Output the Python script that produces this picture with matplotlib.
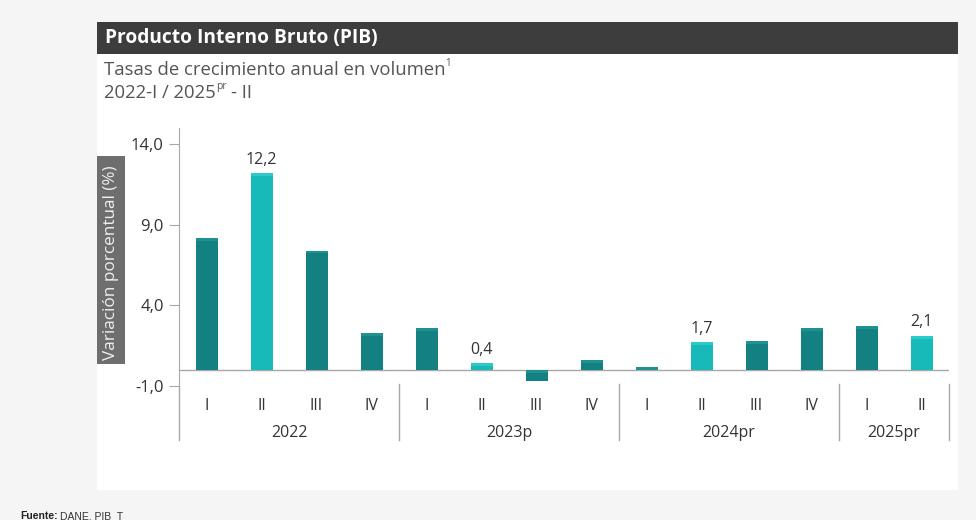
import matplotlib
matplotlib.use("Agg")
import matplotlib.pyplot as plt
from matplotlib.patches import Rectangle
from matplotlib.lines import Line2D

quarters = ["I", "II", "III", "IV", "I", "II", "III", "IV", "I", "II", "III", "IV", "I", "II"]
years = ["2022", "2023p", "2024pr", "2025pr"]
year_counts = [4, 4, 4, 2]
values = [8.2, 12.2, 7.4, 2.3, 2.6, 0.4, -0.7, 0.6, 0.2, 1.7, 1.8, 2.6, 2.7, 2.1]
highlight = [False, True, False, False, False, True, False, False, False, True, False, False, False, True]
yticks = [-1.0, 4.0, 9.0, 14.0]

plt.rcParams['font.family'] = ['Open Sans', 'DejaVu Sans']

W, H = 976, 520
fig = plt.figure(figsize=(W / 100, H / 100), dpi=100)
fig.patch.set_facecolor("#f5f5f5")

def fx(px):
    return px / W

def fy(py):
    return 1 - py / H

# white panel
fig.patches.append(Rectangle((fx(97), fy(490)), fx(958) - fx(97), fy(22) - fy(490),
                             transform=fig.transFigure, facecolor="white", edgecolor="none", zorder=-2))
# title bar
fig.patches.append(Rectangle((fx(97), fy(54)), fx(958) - fx(97), fy(22) - fy(54),
                             transform=fig.transFigure, facecolor="#3d3d3d", edgecolor="none", zorder=-1))
fig.text(fx(105), fy(38.5), "Producto Interno Bruto (PIB)", color="white", fontsize=13.8,
         fontweight="bold", va="center", ha="left")

renderer = fig.canvas.get_renderer()
def text_with_sup(x_px, y_px, main, sup, size, sup_size, color):
    t = fig.text(fx(x_px), fy(y_px), main, color=color, fontsize=size, va="center", ha="left")
    bb = t.get_window_extent(renderer=renderer)
    s = fig.text(bb.x1 / W, fy(y_px - 6), sup, color=color, fontsize=sup_size, va="center", ha="left")
    return s.get_window_extent(renderer=renderer)

text_with_sup(104, 70, "Tasas de crecimiento anual en volumen", "1", 13.3, 7, "#555555")
bb = text_with_sup(104, 93, "2022-I / 2025", "pr", 13.3, 7.5, "#555555")
fig.text(bb.x1 / W + fx(5), fy(93), "- II", color="#555555", fontsize=13.3, va="center", ha="left")

# y label box
fig.patches.append(Rectangle((fx(97), fy(364)), fx(125) - fx(97), fy(156) - fy(364),
                             transform=fig.transFigure, facecolor="#6e6e6e", edgecolor="none", zorder=-1))
fig.text(fx(111), fy(263), "Variación porcentual (%)", color="#f0f0f0", fontsize=12.3,
         rotation=90, va="center", ha="center")

ax = fig.add_axes([fx(179), fy(386), fx(949) - fx(179), fy(128) - fy(386)])
ax.set_zorder(2)
ax.set_facecolor("none")
ax.set_xlim(0, len(values))
ax.set_ylim(-1, 15)

xs = [i + 0.5 for i in range(len(values))]
colors = ["#17b9b9" if h else "#138181" for h in highlight]
caps = ["#2ccaca" if h else "#1f9191" for h in highlight]
ax.bar(xs, values, width=0.4, color=colors, edgecolor="none", zorder=3)
# lighter top cap for bevel effect
for x, v, c in zip(xs, values, caps):
    top = v if v >= 0 else 0
    ax.bar([x], [0.18], bottom=top - 0.18, width=0.4, color=c, edgecolor="none", zorder=4)

for x, v, h in zip(xs, values, highlight):
    if h:
        ax.text(x, v + 0.35, f"{v:.1f}".replace(".", ","), ha="center", va="bottom",
                fontsize=11.5, color="#333333")

ax.axhline(0, color="#a8a8a8", lw=1.0, zorder=2)
for s in ["top", "right", "bottom"]:
    ax.spines[s].set_visible(False)
ax.spines["left"].set_color("#a8a8a8")
ax.set_xticks([])
ax.set_yticks(yticks)
ax.set_yticklabels([f"{t:.1f}".replace(".", ",") for t in yticks], fontsize=12, color="#333333")
ax.tick_params(axis="y", length=7, color="#a8a8a8", pad=4)

# extend left axis line and group separators below the axis
trans = ax.get_xaxis_transform()
y_low = (fy(440) - fy(386)) / (fy(128) - fy(386))
y_sep_top = (fy(384) - fy(386)) / (fy(128) - fy(386))
ax.add_line(Line2D([0, 0], [y_low, 0], transform=trans, color="#a8a8a8", lw=1.0, clip_on=False))
pos = 0
for n in year_counts:
    pos += n
    ax.add_line(Line2D([pos, pos], [y_low, y_sep_top], transform=trans, color="#a8a8a8", lw=1.0, clip_on=False))

y_q = (fy(406) - fy(386)) / (fy(128) - fy(386))
y_y = (fy(433) - fy(386)) / (fy(128) - fy(386))
for x, q in zip(xs, quarters):
    ax.text(x, y_q, q, transform=trans, ha="center", va="center", fontsize=11.5, color="#333333")
pos = 0
for yname, n in zip(years, year_counts):
    ax.text(pos + n / 2, y_y, yname, transform=trans, ha="center", va="center", fontsize=11.5, color="#333333")
    pos += n

ft = fig.text(fx(20), fy(519), "Fuente:", fontsize=7.5, color="#222222", va="baseline", ha="left",
              fontweight="bold", family=["Liberation Sans", "DejaVu Sans"])
fbb = ft.get_window_extent(renderer=renderer)
fig.text(fbb.x1 / W + fx(2), fy(519), "DANE, PIB_T", fontsize=7.5, color="#333333", va="baseline", ha="left",
         family=["Liberation Sans", "DejaVu Sans"])

fig.savefig("out.png", dpi=100, facecolor=fig.get_facecolor())
